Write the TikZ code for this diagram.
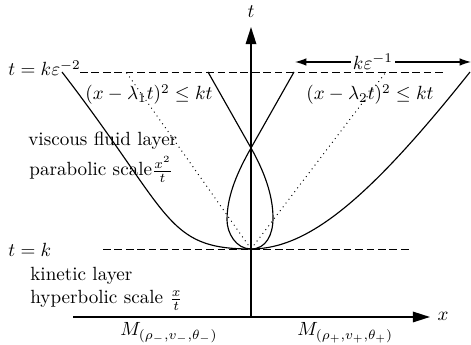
\documentclass[tikz,border=0pt]{standalone}
\usetikzlibrary{arrows.meta}
\begin{document}
\begin{tikzpicture}[x=0.0184cm, y=0.0184cm,
    axis/.style={line width=0.9pt, -{Triangle[length=9pt, width=5.5pt]}},
    branch/.style={line width=0.6pt},
    level/.style={line width=0.5pt, dash pattern=on 4pt off 2pt},
    chara/.style={line width=0.5pt, dotted},
    txt/.style={inner sep=0pt, anchor=base west}]
  \useasboundingbox (0,0) rectangle (471,345);

  % axes
  \coordinate (xs) at (73,28);
  \coordinate (xe) at (430,28);
  \coordinate (o) at (251,28);
  \coordinate (te) at (251,318);
  \draw[axis] (xs) -- (xe);
  \draw[axis] (o) -- (te);
  \node (xlabel) at (443,29) {$x$};
  \node (tlabel) at (251,333) {$t$};

  % levels t = k and t = k eps^-2
  \coordinate (v) at (251,96);
  \coordinate (kl) at (103,96);
  \coordinate (kr) at (410,96);
  \coordinate (el) at (80,273);
  \coordinate (er) at (446,273);
  \draw[level] (kl) -- (kr);
  \draw[level] (el) -- (er);
  \node[txt] (tk) at (8,88) {$t=k$};
  \node[txt] (tke) at (8,269) {$t=k\varepsilon^{-2}$};

  % width at the top
  \coordinate (wl) at (295,283);
  \coordinate (wr) at (471,283);
  \draw[line width=0.6pt, {Latex[length=6pt,width=4pt]}-{Latex[length=6pt,width=4pt]}]
    (wl) -- node[pos=0.443, fill=white, inner sep=1pt] (width) {$k\varepsilon^{-1}$} (wr);

  % characteristics
  \coordinate (c1) at (126,273);
  \coordinate (c2) at (386,273);
  \draw[chara] (v) -- (c1);
  \draw[chara] (v) -- (c2);

  % parabolas
  \coordinate (a1) at (62,273);
  \coordinate (a2) at (470,273);
  \coordinate (b1) at (208,273);
  \coordinate (b2) at (294,273);
  \coordinate (cross) at (251,197);
  \draw[branch] (v) .. controls (165,96) and (172,130) .. (a1);
  \draw[branch] (v) .. controls (310,96) and (372,150) .. (a2);
  \draw[branch] (v) .. controls (266,96) and (273,110) .. (273,127)
    .. controls (273,150) and (264,174) .. (cross) -- (b1);
  \draw[branch] (v) .. controls (236,96) and (227,112) .. (227,125)
    .. controls (227,150) and (238,174) .. (cross) -- (b2);

  % texts
  \node[txt] (lam1) at (85,245) {$(x-\lambda_1t)^2\le kt$};
  \node[txt] (lam2) at (306,245) {$(x-\lambda_2t)^2\le kt$};
  \node[txt] (visc) at (28,199) {viscous fluid layer};
  \node[txt] (para) at (29,169) {parabolic scale$\frac{x^2}{t}$};
  \node[txt] (kin) at (30,64) {kinetic layer};
  \node[txt] (hyp) at (30,41) {hyperbolic scale $\frac{x}{t}$};
  \node[txt] (mm) at (120,9) {$M_{(\rho_-,v_-,\theta_-)}$};
  \node[txt] (mp) at (297,9) {$M_{(\rho_+,v_+,\theta_+)}$};
\end{tikzpicture}
\end{document}
